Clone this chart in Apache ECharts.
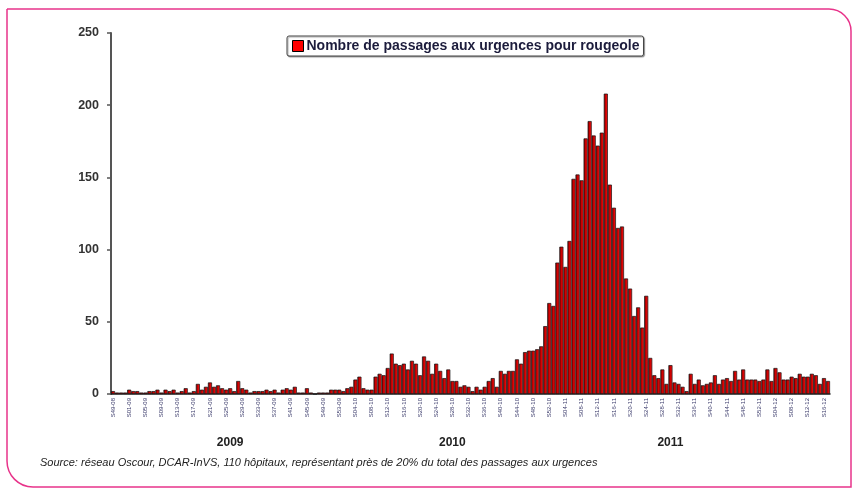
<!DOCTYPE html>
<html>
<head>
<meta charset="utf-8">
<script src="https://cdn.jsdelivr.net/npm/echarts@6/dist/echarts.min.js"></script>
<style>
  html, body { margin: 0; padding: 0; background: #fff; }
  #chart-container { width: 856px; height: 489px; }
</style>
</head>
<body>
<div id="chart-container"></div>
<script>
// passages hebdomadaires, S49-2008 -> S17-2012
const debut2008_2009 = [2, 1, 1, 1, 3, 2, 2, 1, 1, 2, 2, 3, 1, 3, 2, 3, 1, 2, 4, 1, 2, 7, 3, 5, 8, 5, 6, 4, 3, 4,
  2, 9, 4, 3, 1, 2, 2, 2, 3, 2, 3, 1, 3, 4, 3, 5, 1, 1, 4, 1, 0, 1, 1, 1, 3, 3, 3];
const vague2010 = [2, 4, 5, 10, 12, 4, 3, 3, 12, 14, 13, 18, 28, 21, 20, 21, 17, 23, 21, 13, 26, 23, 14, 21, 16,
  11, 17, 9, 9, 5, 6, 5, 2, 5, 3, 5, 9, 11, 5, 16, 14, 16, 16, 24, 21];
const vague2011 = [29, 30, 30, 31, 33, 47, 63, 61, 91, 102, 88, 106, 149, 152, 148, 177, 189, 179, 172, 181,
  208, 145, 129, 115, 116, 80, 73, 54, 60, 46];
const fin2011_2012 = [68, 25, 13, 11, 17, 7, 20, 8, 7, 5, 2, 14, 7, 10, 6, 7, 8, 13, 7, 10, 11, 9, 16, 10, 17,
  10, 10, 10, 9, 10, 17, 9, 18, 15, 10, 10, 12, 11, 14, 12, 12, 14, 13, 7, 11, 9];

const passages = [].concat(debut2008_2009, vague2010, vague2011, fin2011_2012);

// libellés de semaines
const semaineDebut = 49;
const anneeDebut = 2008;
const semainesParAnnee = { 2008: 52, 2009: 53, 2010: 52, 2011: 52, 2012: 52 };
const semaines = [];
let s = semaineDebut, a = anneeDebut;
for (let i = 0; i < passages.length; i++) {
  semaines.push('S' + String(s).padStart(2, '0') + '-' + String(a).slice(2));
  s++;
  if (s > semainesParAnnee[a]) { s = 1; a++; }
}

const annees = ['2009', '2010', '2011'];
const anneesSemaine = ['S26-09', 'S28-10', 'S30-11'];

const yTicks = [0, 50, 100, 150, 200, 250];

const police = 'Liberation Sans, Arial, sans-serif';

const chart = echarts.init(document.getElementById('chart-container'));

chart.setOption({
  animation: false,
  backgroundColor: '#fff',
  textStyle: { fontFamily: police },
  grid: { left: 111, right: 26, top: 33, bottom: 95 },
  title: {
    text: 'Source: réseau Oscour, DCAR-InVS, 110 hôpitaux, représentant près de 20% du total des passages aux urgences',
    left: 40, top: 457, padding: 0,
    textStyle: { fontSize: 11, fontStyle: 'italic', fontWeight: 'normal', color: '#222', fontFamily: police }
  },
  legend: {
    left: 287, top: 36,
    padding: [3, 4, 3, 5],
    borderColor: '#444', borderWidth: 1, borderRadius: 2,
    backgroundColor: '#fff',
    shadowColor: 'rgba(0,0,0,0.35)', shadowOffsetX: 1, shadowOffsetY: 1, shadowBlur: 1,
    itemWidth: 11, itemHeight: 11,
    data: [{ name: 'Nombre de passages aux urgences pour rougeole', icon: 'rect',
      itemStyle: { color: '#ff0000', borderColor: '#000', borderWidth: 1 } }],
    textStyle: { fontSize: 14, fontWeight: 'bold', color: '#1c1c3c', padding: [0, 0, 0, -2] }
  },
  xAxis: [
    {
      type: 'category',
      data: semaines,
      boundaryGap: true,
      axisLine: { lineStyle: { color: '#222', width: 1.5 } },
      axisTick: { interval: 3, length: 4, lineStyle: { color: '#222' } },
      axisLabel: { interval: 3, rotate: 90, fontSize: 6, color: '#3a3a6a', margin: 4 }
    },
    {
      type: 'category',
      data: semaines,
      position: 'bottom',
      offset: 35,
      axisLine: { show: false },
      axisTick: { show: false },
      axisLabel: {
        interval: 0,
        fontSize: 12, fontWeight: 'bold', color: '#222',
        formatter: function (v) {
          const k = anneesSemaine.indexOf(v);
          return k >= 0 ? annees[k] : '';
        }
      }
    }
  ],
  yAxis: {
    type: 'value',
    min: yTicks[0], max: yTicks[yTicks.length - 1], interval: 50,
    splitLine: { show: false },
    axisLine: { show: true, lineStyle: { color: '#555', width: 2 } },
    axisTick: { show: true, length: 4, lineStyle: { color: '#555', width: 1.5 } },
    axisLabel: { fontSize: 12.5, fontWeight: 'bold', color: '#333', margin: 12 }
  },
  series: [{
    name: 'Nombre de passages aux urgences pour rougeole',
    type: 'bar',
    data: passages,
    barCategoryGap: '0%',
    itemStyle: {
      color: new echarts.graphic.LinearGradient(0, 0, 1, 0, [
        { offset: 0, color: '#6e0000' },
        { offset: 0.5, color: '#d00000' },
        { offset: 1, color: '#ff1a1a' }
      ]),
      borderColor: '#111',
      borderWidth: 0.7
    }
  }],
  graphic: [{
    type: 'rect',
    silent: true,
    shape: { x: 7, y: 9, width: 844, height: 478, r: [0, 22, 0, 26] },
    style: { fill: 'none', stroke: '#e8338a', lineWidth: 1.5 }
  }]
});
</script>
</body>
</html>
